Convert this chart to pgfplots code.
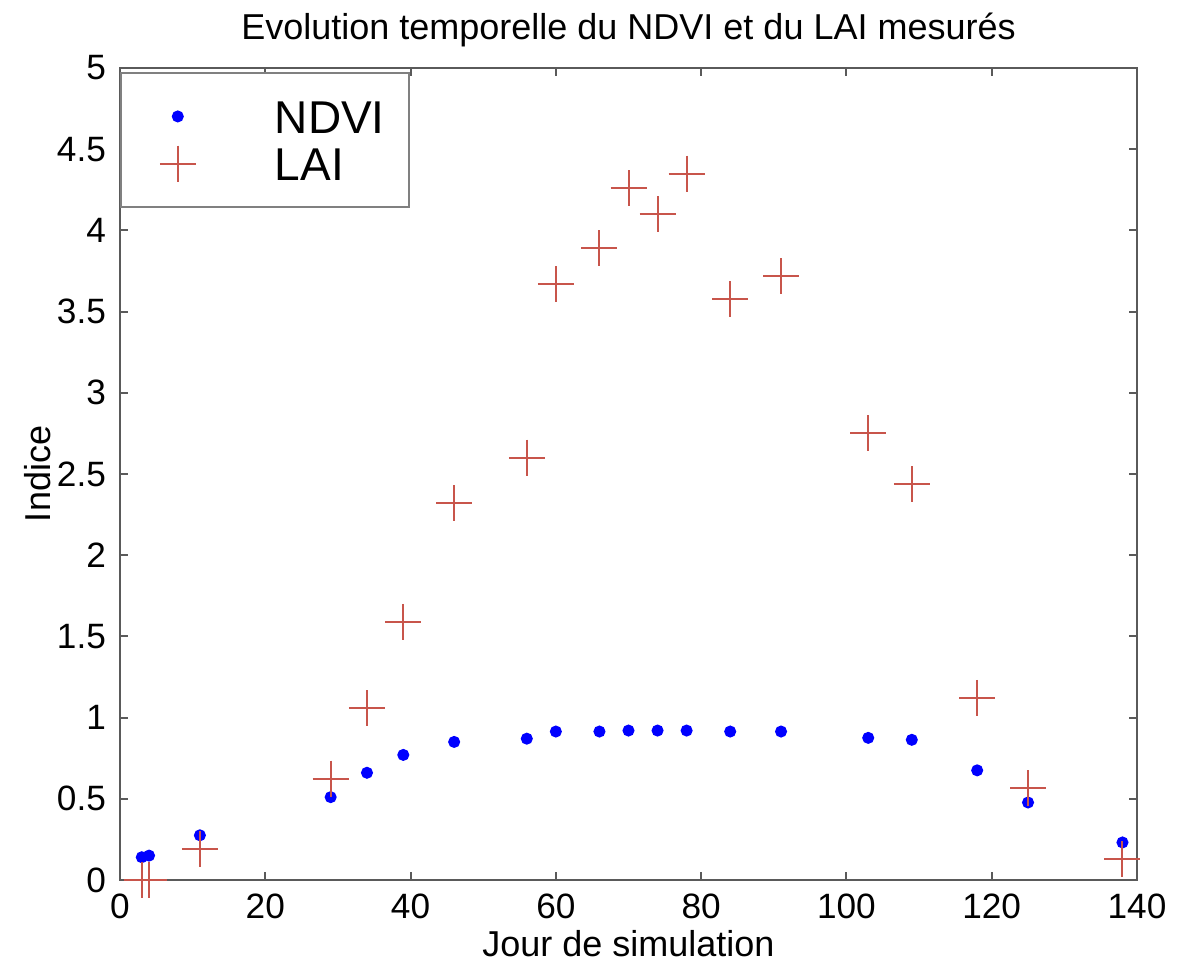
\documentclass[border=0pt]{standalone}
\usepackage{fontspec}
\setmainfont{Liberation Sans}
\usepackage{pgfplots}
\pgfplotsset{compat=1.18}
\definecolor{laicol}{RGB}{200,85,75}
\definecolor{axcol}{RGB}{90,90,90}
\begin{document}
\begin{tikzpicture}
\begin{axis}[
  scale only axis,
  width=254.25pt, height=203pt,
  xmin=0, xmax=140, ymin=0, ymax=5,
  xtick={0,20,...,140}, ytick={0,0.5,...,5},
  /pgf/number format/assume math mode=true,
  tick label style={font=\fontsize{8.8}{10}\selectfont, black},
  label style={font=\fontsize{9}{10}\selectfont},
  axis line style={axcol, line width=0.5pt},
  tick style={axcol, line width=0.5pt},
  tick align=inside, major tick length=2pt,
  xtick pos=both, ytick pos=both,
  title={Evolution temporelle du NDVI et du LAI mesurés},
  every axis title/.style={at={(axis description cs:0.5,1.0345)}, anchor=base, font=\fontsize{9}{10}\selectfont},
  xlabel={Jour de simulation},
  xlabel style={at={(axis description cs:0.5,-0.0948)}, anchor=base},
  ylabel={Indice},
  ylabel style={at={(axis description cs:-0.068,0.5)}, anchor=base},
  legend style={at={(axis description cs:0,0.995)}, anchor=north west,
    draw=gray, line width=0.4pt, inner xsep=3pt, inner ysep=5pt, row sep=0pt,
    nodes={font=\fontsize{11.5}{12}\selectfont, text height=8.3pt, text depth=0pt, inner ysep=1.75pt, inner xsep=3pt}},
  legend cell align=left,
  legend image code/.code={\path (0pt,0pt) (32pt,0pt); \draw[#1,only marks] plot coordinates {(11pt,0pt)};},
]
\addplot[only marks, mark=*, mark size=1.3pt, color=blue] coordinates {
(3,0.14) (4,0.15) (11,0.275) (29,0.51) (34,0.66) (39,0.77) (46,0.85)
(56,0.87) (60,0.914) (66,0.914) (70,0.92) (74,0.92) (78,0.92) (84,0.914)
(91,0.914) (103,0.875) (109,0.863) (118,0.675) (125,0.477) (138,0.231)
};
\addlegendentry{NDVI}
\addplot[only marks, mark=+, mark size=4.5pt, color=laicol, line width=0.5pt] coordinates {
(3,0.0) (4,0.0) (11,0.188) (29,0.624) (34,1.057) (39,1.589) (46,2.32)
(56,2.60) (60,3.667) (66,3.89) (70,4.26) (74,4.10) (78,4.35) (84,3.577)
(91,3.716) (103,2.75) (109,2.436) (118,1.121) (125,0.566) (138,0.129)
};
\addlegendentry{LAI}
\end{axis}
\path ([shift={(-30pt,-21.5pt)}]current axis.south west) rectangle ([shift={(13pt,17pt)}]current axis.north east);
\end{tikzpicture}
\end{document}
